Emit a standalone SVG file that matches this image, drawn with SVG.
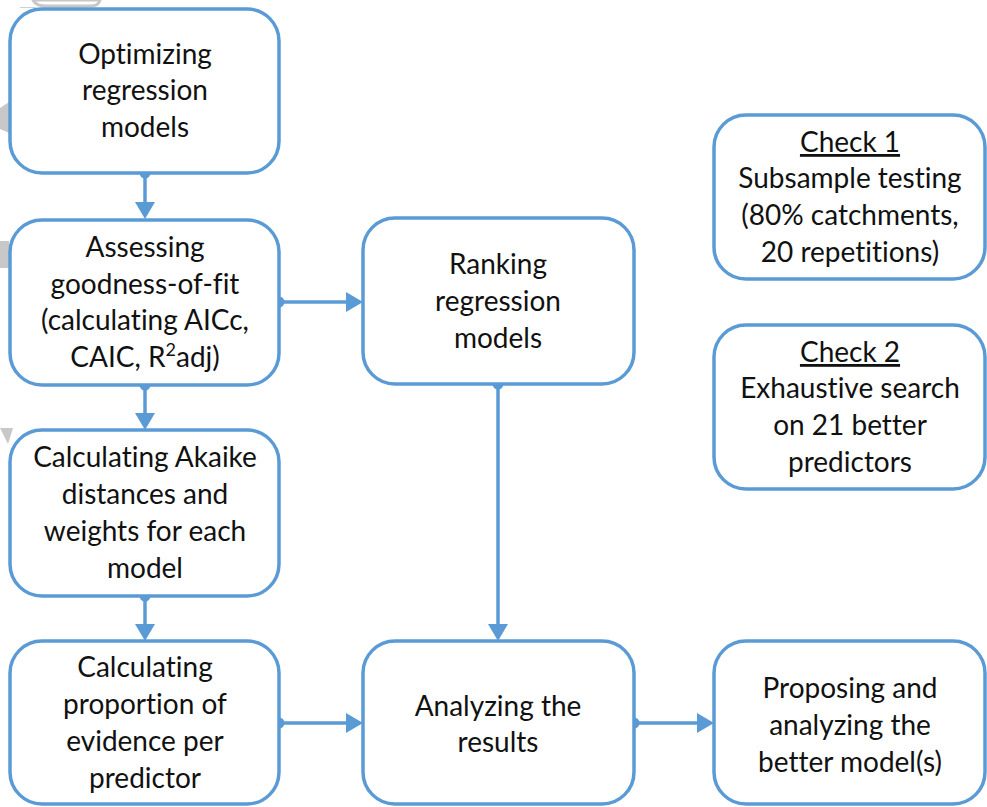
<svg xmlns="http://www.w3.org/2000/svg" width="987" height="807" viewBox="0 0 987 807">
<style>
.box{fill:#ffffff;stroke:#5B9BD5;stroke-width:3.5}
.lbl{font-family:Lato,"Liberation Sans",sans-serif;font-size:28px;fill:#111111;text-anchor:middle;font-variant-ligatures:none;font-feature-settings:"liga" 0}
.con{fill:none;stroke:#5B9BD5;stroke-width:3.5}
.dot{fill:#5B9BD5}
.ghost{fill:#c8c8c8;stroke:none}
</style>
<defs>
<marker id="arr" viewBox="0 0 17 20" refX="7" refY="10" markerWidth="17" markerHeight="20" markerUnits="userSpaceOnUse" orient="auto">
<path d="M0,0 L17,10 L0,20 Z" fill="#5B9BD5"/>
</marker>
</defs>
<rect width="987" height="807" fill="#ffffff"/>
<g id="background-fragments">
<path d="M33,0 Q36,6 46,6 L90,6 Q99,6 100,0 Z" fill="none" stroke="#c8c8c8" stroke-width="3"/>
<line x1="20" y1="7.5" x2="35" y2="7.5" stroke="#d0d0d0" stroke-width="1"/>
<path class="ghost" d="M0,108 L9,102 L9,133 L0,129 Z"/>
<rect class="ghost" x="0" y="241" width="9" height="27"/>
<path class="ghost" d="M0,428 L13,428 L8,444 Z"/>
</g>
<g id="connectors">
<path class="con" d="M145,173 L145,209" marker-end="url(#arr)"/>
<path class="con" d="M145,385 L145,420" marker-end="url(#arr)"/>
<path class="con" d="M145,596 L145,631" marker-end="url(#arr)"/>
<path class="con" d="M279,302 L353,302" marker-end="url(#arr)"/>
<path class="con" d="M279,723 L353,723" marker-end="url(#arr)"/>
<path class="con" d="M498,384 L498,631" marker-end="url(#arr)"/>
<path class="con" d="M634,723 L704,723" marker-end="url(#arr)"/>
<circle class="dot" cx="145" cy="173" r="5.5"/>
<circle class="dot" cx="145" cy="385" r="5.5"/>
<circle class="dot" cx="145" cy="596" r="5.5"/>
<circle class="dot" cx="279" cy="302" r="5.5"/>
<circle class="dot" cx="279" cy="723" r="5.5"/>
<circle class="dot" cx="498" cy="384" r="5.5"/>
<circle class="dot" cx="634" cy="723" r="5.5"/>
</g>
<g id="n-optimizing">
<rect class="box" x="10" y="9" width="269" height="164" rx="32"/>
<text class="lbl" x="145" y="64">Optimizing</text>
<text class="lbl" x="145" y="100">regression</text>
<text class="lbl" x="145" y="137">models</text>
</g>
<g id="n-assessing">
<rect class="box" x="10" y="220" width="269" height="165" rx="32"/>
<text class="lbl" x="145" y="257">Assessing</text>
<text class="lbl" x="145" y="294">goodness-of-fit</text>
<text class="lbl" x="145" y="330">(calculating AICc,</text>
<text class="lbl" x="145" y="367">CAIC, R<tspan font-size="18" dy="-11">2</tspan><tspan dy="11">adj)</tspan></text>
</g>
<g id="n-akaike">
<rect class="box" x="10" y="430" width="269" height="166" rx="32"/>
<text class="lbl" x="145" y="467">Calculating Akaike</text>
<text class="lbl" x="145" y="504">distances and</text>
<text class="lbl" x="145" y="541">weights for each</text>
<text class="lbl" x="145" y="578">model</text>
</g>
<g id="n-proportion">
<rect class="box" x="10" y="641" width="269" height="163" rx="32"/>
<text class="lbl" x="145" y="677">Calculating</text>
<text class="lbl" x="145" y="714">proportion of</text>
<text class="lbl" x="145" y="751">evidence per</text>
<text class="lbl" x="145" y="788">predictor</text>
</g>
<g id="n-ranking">
<rect class="box" x="363" y="218" width="271" height="166" rx="32"/>
<text class="lbl" x="498" y="274">Ranking</text>
<text class="lbl" x="498" y="311">regression</text>
<text class="lbl" x="498" y="348">models</text>
</g>
<g id="n-analyzing">
<rect class="box" x="363" y="641" width="271" height="163" rx="32"/>
<text class="lbl" x="498" y="716">Analyzing the</text>
<text class="lbl" x="498" y="752">results</text>
</g>
<g id="n-proposing">
<rect class="box" x="714" y="641" width="271" height="163" rx="32"/>
<text class="lbl" x="850" y="698">Proposing and</text>
<text class="lbl" x="850" y="735">analyzing the</text>
<text class="lbl" x="850" y="772">better model(s)</text>
</g>
<g id="n-check1">
<rect class="box" x="714" y="115" width="271" height="164" rx="32"/>
<text class="lbl" x="850" y="152" text-decoration="underline">Check 1</text>
<text class="lbl" x="850" y="188">Subsample testing</text>
<text class="lbl" x="850" y="225">(80% catchments,</text>
<text class="lbl" x="850" y="262">20 repetitions)</text>
</g>
<g id="n-check2">
<rect class="box" x="714" y="325" width="271" height="164" rx="32"/>
<text class="lbl" x="850" y="362" text-decoration="underline">Check 2</text>
<text class="lbl" x="850" y="398">Exhaustive search</text>
<text class="lbl" x="850" y="435">on 21 better</text>
<text class="lbl" x="850" y="472">predictors</text>
</g>
</svg>
